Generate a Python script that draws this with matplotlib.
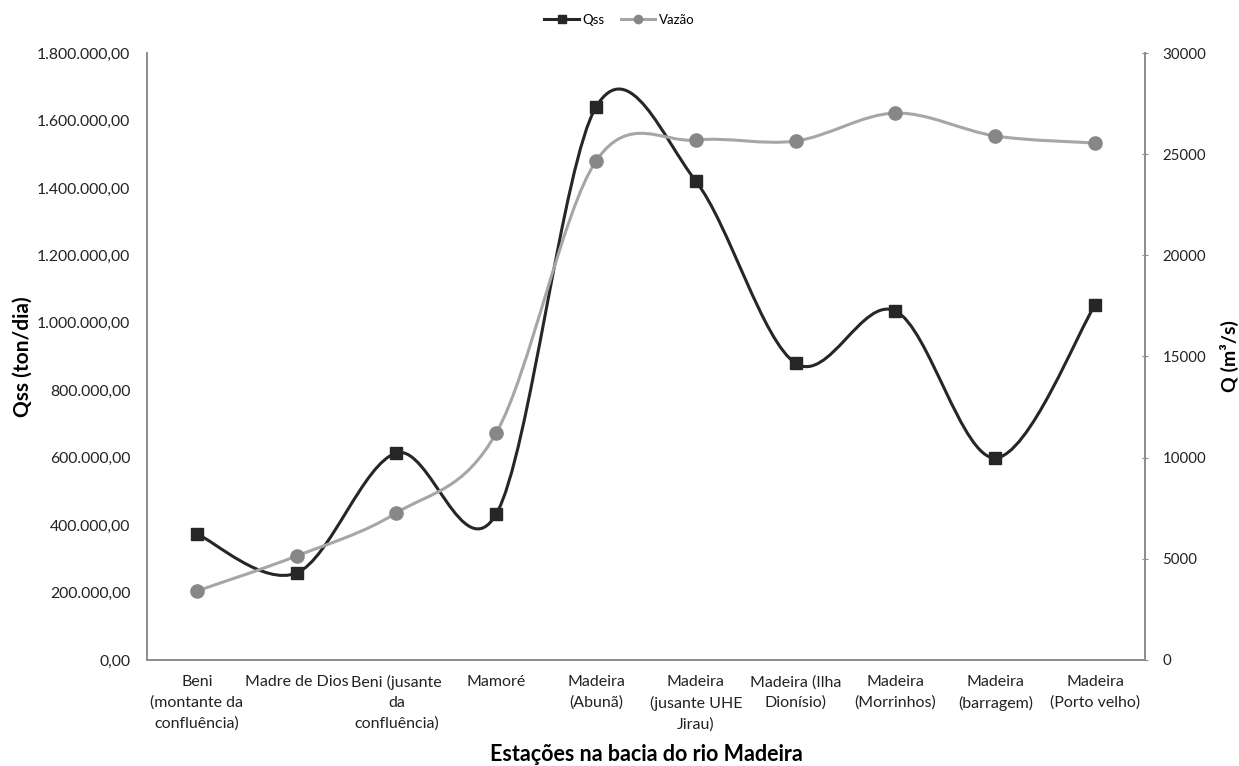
import numpy as np
import matplotlib as mpl
mpl.use("Agg")
import matplotlib.pyplot as plt
from matplotlib.path import Path
from matplotlib.patches import PathPatch
from matplotlib.lines import Line2D
from matplotlib.ticker import FuncFormatter

plt.rcParams['font.family'] = ['Lato', 'DejaVu Sans']

# dados
estacoes = ["Beni\n(montante da\nconfluência)", "Madre de Dios", "Beni (jusante\nda\nconfluência)",
            "Mamoré", "Madeira\n(Abunã)", "Madeira\n(jusante UHE\nJirau)", "Madeira (Ilha\nDionísio)",
            "Madeira\n(Morrinhos)", "Madeira\n(barragem)", "Madeira\n(Porto velho)"]
qss = [374000, 258000, 614000, 433000, 1640000, 1420000, 880000, 1035000, 599000, 1053000]
vazao = [3410, 5140, 7270, 11220, 24660, 25700, 25650, 27030, 25900, 25550]

c_qss = '#262626'
c_vaz_line = '#a6a6a6'
c_vaz_mk = '#878787'
c_axis = '#8c8c8c'


def smooth_path(x, y):
    # curva suavizada tipo excel (bezier com tangentes catmull-rom)
    pts = np.column_stack([x, y]).astype(float)
    n = len(pts)
    verts = [pts[0]]
    codes = [Path.MOVETO]
    for i in range(n - 1):
        p0 = pts[i - 1] if i > 0 else pts[i]
        p1 = pts[i]
        p2 = pts[i + 1]
        p3 = pts[i + 2] if i + 2 < n else pts[i + 1]
        verts += [p1 + (p2 - p0) / 6.0, p2 - (p3 - p1) / 6.0, p2]
        codes += [Path.CURVE4] * 3
    return Path(verts, codes)


fig = plt.figure(figsize=(12.39, 7.66), dpi=100)
ax = fig.add_axes([0.1186, 0.1384, 0.8055, 0.7924])
ax2 = ax.twinx()

x = np.arange(len(estacoes))

ax.add_patch(PathPatch(smooth_path(x, qss), facecolor='none', edgecolor=c_qss, lw=2.2, zorder=3))
ax.plot(x, qss, ls='none', marker='s', ms=9, color=c_qss, zorder=4)
ax2.add_patch(PathPatch(smooth_path(x, vazao), facecolor='none', edgecolor=c_vaz_line, lw=2.2, zorder=3))
ax2.plot(x, vazao, ls='none', marker='o', ms=9.5, color=c_vaz_mk, zorder=4)

ax.set_xlim(-0.5, len(estacoes) - 0.5)
ax.set_ylim(0, 1800000)
ax2.set_ylim(0, 30000)
ax.set_yticks(np.arange(0, 1800001, 200000))
ax2.set_yticks(np.arange(0, 30001, 5000))


def fmt_br(v, pos):
    s = f"{v:,.2f}"
    return s.replace(',', 'X').replace('.', ',').replace('X', '.')


ax.yaxis.set_major_formatter(FuncFormatter(fmt_br))
ax.set_xticks(x)
ax.set_xticklabels(estacoes, fontsize=11.5, linespacing=1.55, va='top', color='#222222')
ax.tick_params(axis='x', length=0, pad=11)
ax.tick_params(axis='y', length=0, pad=12, labelsize=11.3, labelcolor='#222222')
ax2.tick_params(axis='y', direction='inout', length=5, color=c_axis, pad=10,
                labelsize=10.8, labelcolor='#222222')

for a in (ax, ax2):
    a.spines['top'].set_visible(False)
    for s in ('left', 'bottom', 'right'):
        a.spines[s].set_color(c_axis)
        a.spines[s].set_linewidth(1.2)

ax.set_ylabel('Qss (ton/dia)', fontsize=15, fontweight='bold')
ax.yaxis.set_label_coords(-0.115, 0.5)
ax2.set_ylabel('Q (m³/s)', fontsize=14, fontweight='bold', labelpad=10)
ax.set_xlabel('Estações na bacia do rio Madeira', fontsize=15.5, fontweight='bold', labelpad=9)

handles = [Line2D([], [], color=c_qss, lw=2.2, marker='s', ms=6),
           Line2D([], [], color=c_vaz_line, lw=2.2, marker='o', ms=6, markerfacecolor=c_vaz_mk,
                  markeredgecolor=c_vaz_mk)]
fig.legend(handles, ['Qss', 'Vazão'], loc='center', bbox_to_anchor=(0.5, 0.974), ncol=2,
           frameon=False, fontsize=9.5, handlelength=2.6, columnspacing=1.2, handletextpad=0.3)

fig.savefig('out.png', dpi=100)
